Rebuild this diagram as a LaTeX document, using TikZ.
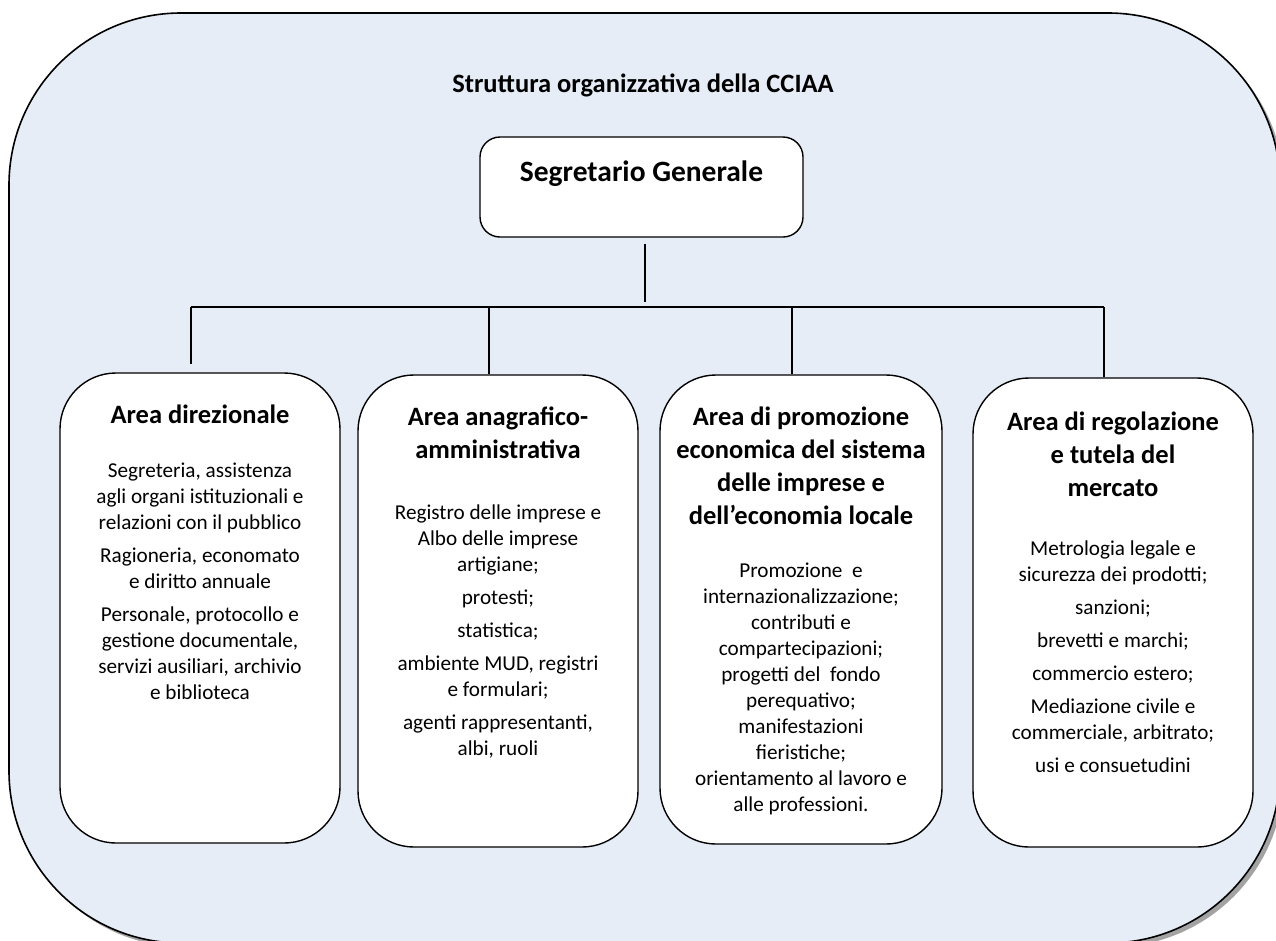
\documentclass[tikz,border=0pt]{standalone}
\usepackage{fontspec}
\setmainfont{Carlito}
\usepackage{tikz}
\usetikzlibrary{positioning,shadows}
\definecolor{framefill}{RGB}{230,237,247}
\tikzset{
    areabox/.style={draw, line width=1.4pt, fill=white, rounded corners=56pt, minimum width=280pt, minimum height=470pt, inner sep=0pt},
    head/.style={font=\bfseries\fontsize{26.5}{33}\selectfont, align=center, inner sep=0pt},
    body/.style={font=\fontsize{21.2}{26}\selectfont, align=center, inner sep=0pt},
    link/.style={line width=1.2pt, black}
}

\begin{document}
\begin{tikzpicture}[x=1pt, y=-1pt]
    \useasboundingbox (0,0) rectangle (1276,940);
    \clip (0,0) rectangle (1276,940);
    % outer frame
    \draw[line width=1.6pt, fill=framefill, rounded corners=172pt,
          drop shadow={shadow xshift=4pt, shadow yshift=-4pt, fill=black!45, opacity=0.8}]
        (9,13) rectangle (1280,943);

    \node[font=\bfseries\fontsize{26.5}{32}\selectfont] (title) at (643,85) {Struttura organizzativa della CCIAA};
    \node[draw, line width=1.4pt, fill=white, rounded corners=20pt, minimum width=323pt, minimum height=100pt,
          font=\bfseries\fontsize{29.5}{35}\selectfont, text height=21pt, text depth=33pt] (seg) at (641.5,187) {Segretario Generale};

    % the four areas
    \node[areabox] (b1) at (200,608) {};
    \node[areabox, minimum height=472pt] (b2) at (498,611) {};
    \node[areabox, minimum width=282pt, minimum height=469pt] (b3) at (801,609.5) {};
    \node[areabox, minimum height=469pt] (b4) at (1113,612.5) {};

    \node[head, below=32.5pt of b1.north] (h1) {Area direzionale};
    \node[body, below=90pt of b1.north] (t1) {Segreteria, assistenza\\agli organi istituzionali e\\relazioni con il pubblico\\[7pt]Ragioneria, economato\\e diritto annuale\\[7pt]Personale, protocollo e\\gestione documentale,\\servizi ausiliari, archivio\\e biblioteca};

    \node[head, below=32.5pt of b2.north] (h2) {Area anagrafico-\\amministrativa};
    \node[body, below=130pt of b2.north] (t2) {Registro delle imprese e\\Albo delle imprese\\artigiane;\\[7pt]protesti;\\[7pt]statistica;\\[7pt]ambiente MUD, registri\\e formulari;\\[7pt]agenti rappresentanti,\\albi, ruoli};

    \node[head, below=32.5pt of b3.north] (h3) {Area di promozione\\economica del sistema\\delle imprese e\\dell’economia locale};
    \node[body, below=188pt of b3.north] (t3) {Promozione~ e\\internazionalizzazione;\\contributi e\\compartecipazioni;\\progetti del~ fondo\\perequativo;\\manifestazioni\\fieristiche;\\orientamento al lavoro e\\alle professioni.};

    \node[head, below=34.5pt of b4.north] (h4) {Area di regolazione\\e tutela del\\mercato};
    \node[body, below=163.5pt of b4.north] (t4) {Metrologia legale e\\sicurezza dei prodotti;\\[7pt]sanzioni;\\[7pt]brevetti e marchi;\\[7pt]commercio estero;\\[7pt]Mediazione civile e\\commerciale, arbitrato;\\[7pt]usi e consuetudini};

    % connectors
    \coordinate (bus) at (645,307);
    \coordinate (d1) at ([xshift=-9pt]b1.north);
    \coordinate (d2) at ([xshift=-9pt]b2.north);
    \coordinate (d3) at ([xshift=-9pt]b3.north);
    \coordinate (d4) at ([xshift=-9pt]b4.north);
    \draw[link, shorten >=5pt] ([xshift=3.5pt, yshift=-6pt]seg.south) -- (bus);
    \draw[link] (d1 |- bus) -- (d4 |- bus);
    \draw[link, shorten >=8pt] (d1 |- bus) -- (d1);
    \draw[link] (d2 |- bus) -- (d2);
    \draw[link] (d3 |- bus) -- (d3);
    \draw[link] (d4 |- bus) -- (d4);
\end{tikzpicture}
\end{document}
